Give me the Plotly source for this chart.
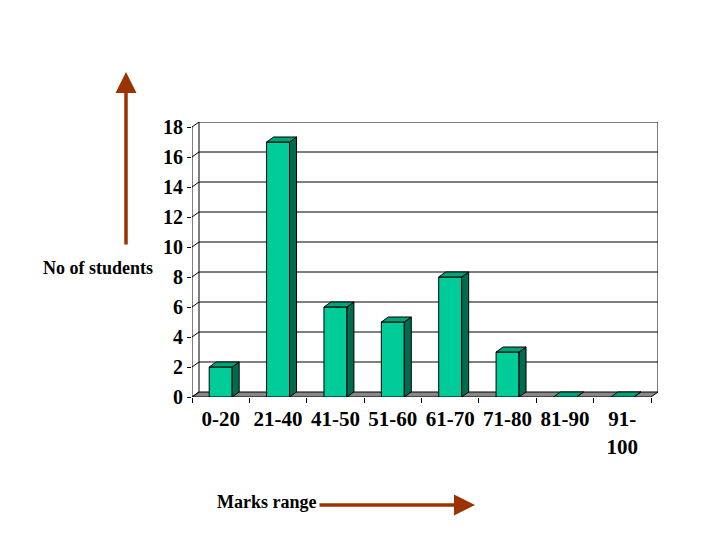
import plotly.graph_objects as go

# marks distribution
categories = ["0-20", "21-40", "41-50", "51-60", "61-70", "71-80", "81-90", "91-<br>100"]
students = [2, 17, 6, 5, 8, 3, 0, 0]
y_ticks = [0, 2, 4, 6, 8, 10, 12, 14, 16, 18]

# page geometry (px); the html body adds an 8px margin, so the figure is 8px smaller
PAD = 8
W, H = 720 - PAD, 540 - PAD
L, R, T, B = 192 - PAD, 62, 122 - PAD, 143
plot_w = W - L - R
plot_h = H - T - B

n = len(categories)
DX = 7 / 57.37        # depth offset in x units
DY = 5 / 15.0         # depth offset in y units
half = 0.2            # half bar width

FRONT = "#00CC99"
SIDE = "#006B4F"
TOP = "#00A37A"
FLOOR = "#888888"
ARROW = "#993300"
FONT = "Liberation Serif"


def px(x):
    # page pixel -> paper x
    return (x - PAD - L) / plot_w


def py(y):
    # page pixel -> paper y
    return (H - B - (y - PAD)) / plot_h


centers = [i + 0.5 for i in range(n)]

# side and top faces of the 3-D columns
side_x, side_y, top_x, top_y = [], [], [], []
for c, v in zip(centers, students):
    side_x += [c + half, c + half + DX, c + half + DX, c + half, c + half, None]
    side_y += [0, DY, v + DY, v, 0, None]
    top_x += [c - half, c + half, c + half + DX, c - half + DX, c - half, None]
    top_y += [v, v, v + DY, v + DY, v, None]

fig = go.Figure()
fig.add_trace(go.Bar(x=centers, y=students, width=2 * half,
                     marker=dict(color=FRONT, line=dict(color="black", width=1)),
                     cliponaxis=False, hoverinfo="skip"))
fig.add_trace(go.Scatter(x=side_x, y=side_y, mode="lines", fill="toself",
                         fillcolor=SIDE, line=dict(color="black", width=1),
                         cliponaxis=False, hoverinfo="skip"))
fig.add_trace(go.Scatter(x=top_x, y=top_y, mode="lines", fill="toself",
                         fillcolor=TOP, line=dict(color="black", width=1),
                         cliponaxis=False, hoverinfo="skip"))

shapes = []
# floor
shapes.append(dict(type="path", xref="x", yref="y", layer="below",
                   path=f"M 0 0 L {n} 0 L {n + DX} {DY} L {DX} {DY} Z",
                   fillcolor=FLOOR, line=dict(color="black", width=1)))
# back wall grid and edges
for k in y_ticks[1:]:
    shapes.append(dict(type="line", xref="x", yref="y", layer="below",
                       x0=DX, x1=n + DX, y0=k + DY, y1=k + DY,
                       line=dict(color="black", width=1)))
for k in y_ticks:
    shapes.append(dict(type="line", xref="x", yref="y", layer="below",
                       x0=0, x1=DX, y0=k, y1=k + DY,
                       line=dict(color="black", width=1)))
shapes.append(dict(type="line", xref="x", yref="y", layer="below",
                   x0=DX, x1=DX, y0=DY, y1=y_ticks[-1] + DY, line=dict(color="black", width=1)))
shapes.append(dict(type="line", xref="x", yref="y", layer="below",
                   x0=n + DX, x1=n + DX, y0=DY, y1=y_ticks[-1] + DY, line=dict(color="black", width=1)))
shapes.append(dict(type="line", xref="x", yref="y", layer="below",
                   x0=0, x1=0, y0=0, y1=y_ticks[-1], line=dict(color="black", width=1)))

annotations = [
    dict(text="<b>No of students</b>", x=px(98), y=py(268), xref="paper", yref="paper",
         xanchor="center", yanchor="middle",
         showarrow=False, font=dict(family=FONT, size=18, color="black")),
    dict(text="<b>Marks range</b>", x=px(266), y=py(502), xref="paper", yref="paper",
         xanchor="center", yanchor="middle",
         showarrow=False, font=dict(family=FONT, size=18, color="black")),
    dict(text="", x=px(126), y=py(72), xref="paper", yref="paper",
         showarrow=True, ax=0, ay=174, arrowhead=2, arrowsize=1.2,
         arrowwidth=3.5, arrowcolor=ARROW),
    dict(text="", x=px(475), y=py(505), xref="paper", yref="paper",
         showarrow=True, ax=-157, ay=0, arrowhead=2, arrowsize=1.2,
         arrowwidth=3.5, arrowcolor=ARROW),
]

fig.update_layout(
    width=W, height=H,
    margin=dict(l=L, r=R, t=T, b=B),
    paper_bgcolor="white", plot_bgcolor="white",
    showlegend=False,
    shapes=shapes,
    annotations=annotations,
    xaxis=dict(range=[0, n + DX], tickvals=centers, ticktext=categories,
               showgrid=False, zeroline=False, showline=False,
               ticks="outside", ticklen=0, tickcolor="rgba(0,0,0,0)",
               ticklabelstandoff=3,
               minor=dict(ticks="outside", ticklen=5, tickcolor="black",
                          tick0=0, dtick=1, showgrid=False),
               tickfont=dict(family=FONT, size=21, color="black", weight="bold"),
               fixedrange=True),
    yaxis=dict(range=[0, y_ticks[-1] + DY], tickvals=y_ticks,
               showgrid=False, zeroline=False, showline=False,
               ticks="outside", ticklen=4, tickcolor="black",
               tickfont=dict(family=FONT, size=20, color="black", weight="bold"),
               fixedrange=True),
)

fig.write_html("out.html")
